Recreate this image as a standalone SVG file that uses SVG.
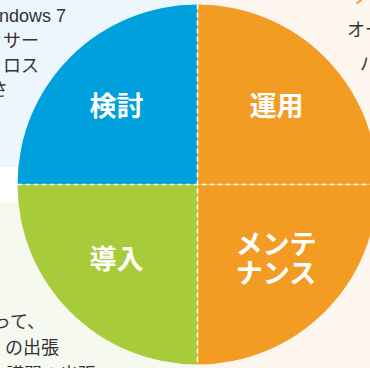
<svg xmlns="http://www.w3.org/2000/svg" width="370" height="368" viewBox="0 0 370 368">
<style>
.side{font-family:"Noto Sans CJK JP","Liberation Sans",sans-serif;font-size:18px;fill:#333333}
.lat{font-family:"Liberation Sans","Noto Sans CJK JP",sans-serif;font-size:18px;fill:#333333}
.lbl{font-family:"Noto Sans CJK JP",sans-serif;font-size:27px;font-weight:700;fill:#ffffff;text-anchor:middle}
.div{stroke:#ffffff;stroke-width:1.6;stroke-dasharray:5 3;opacity:0.9;fill:none}
</style>
<g id="background">
<rect x="0" y="0" width="197.5" height="167" fill="#eef6fd"/>
<rect x="0" y="167" width="197.5" height="36" fill="#ffffff"/>
<rect x="0" y="203" width="197.5" height="165" fill="#f6f9f0"/>
<rect x="197.5" y="0" width="172.5" height="368" fill="#fdf6ee"/>
<path d="M356.5,3.5 L361.5,0" stroke="#f39c24" stroke-width="2" fill="none"/>
</g>
<g id="side-text">
<text class="lat" x="66" y="22" text-anchor="end">Windows 7</text>
<text class="side" x="39" y="47" text-anchor="end">ッサー</text>
<text class="side" x="39" y="72" text-anchor="end">ロス</text>
<text class="side" x="8" y="96" text-anchor="end">さ</text>
<text class="side" x="45" y="328" text-anchor="end">って、</text>
<text class="side" x="59" y="354" text-anchor="end">の出張</text>
<text class="side" x="96" y="381" text-anchor="end">講習の出張</text>
<text class="side" x="347" y="36">オー</text>
<text class="side" x="360" y="70">パ</text>
</g>
<g id="node-kento">
<path d="M197.5,184.5 L17.5,184.5 A180,180 0 0 1 197.5,4.5 Z" fill="#00a0dc"/>
<text class="lbl" x="116.5" y="116">検討</text>
</g>
<g id="node-unyo">
<path d="M197.5,184.5 L197.5,4.5 A180,180 0 0 1 377.5,184.5 Z" fill="#f39c24"/>
<text class="lbl" x="276.5" y="116">運用</text>
</g>
<g id="node-maintenance">
<path d="M197.5,184.5 L377.5,184.5 A180,180 0 0 1 197.5,364.5 Z" fill="#f39c24"/>
<text class="lbl" x="276" y="254">メンテ</text>
<text class="lbl" x="276" y="283">ナンス</text>
</g>
<g id="node-donyu">
<path d="M197.5,184.5 L197.5,364.5 A180,180 0 0 1 17.5,184.5 Z" fill="#a8cb3a"/>
<text class="lbl" x="116.5" y="269">導入</text>
</g>
<g id="connectors">
<line class="div" x1="17.5" y1="184.5" x2="377.5" y2="184.5"/>
<line class="div" x1="197.5" y1="4.5" x2="197.5" y2="364.5"/>
</g>
</svg>
